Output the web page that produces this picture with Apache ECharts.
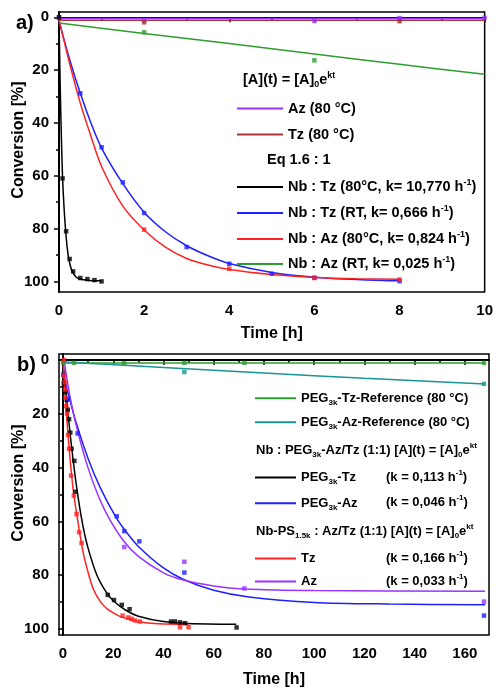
<!DOCTYPE html>
<html><head><meta charset="utf-8">
<script src="https://cdn.jsdelivr.net/npm/echarts@6/dist/echarts.min.js"></script>
<style>html,body{margin:0;padding:0;background:#fff}#c{width:496px;height:689px}</style>
</head><body><div id="c"></div>
<script>
// ---------- Panel a) data  [time h, conversion %] ----------
const aXLabels = [0, 2, 4, 6, 8, 10];
const aXMinor = [1, 3, 5, 7, 9];
const aYLabels = [0, 20, 40, 60, 80, 100];
const aYMinor = [10, 30, 50, 70, 90];

const aAzPts = [[0, 0.1], [2, 1.1], [6, 1.4], [8, 0.3], [10, 0.2]];
const aAzFit = [[0, 0.5], [10, 0.5]];
const aTzPts = [[2, 1.9], [8, 1.5]];
const aTzFit = [[0, 1.1], [10, 1.1]];
const aNbTz80Pts = [[0, 0], [0.083, 61], [0.167, 81], [0.25, 91.5], [0.333, 96.2], [0.5, 98.7], [0.667, 99.1], [0.833, 99.5], [1.0, 100]];
const aNbTz80Fit = [[0, 0], [0.02, 19], [0.04, 35], [0.06, 48], [0.083, 60.5], [0.12, 72.5], [0.167, 83], [0.21, 89.5], [0.25, 93], [0.3, 95.8], [0.4, 98.3], [0.5, 99.2], [0.7, 99.6], [1.0, 99.7]];
const aNbTzRTPts = [[0.5, 28.8], [1, 49.2], [1.5, 62.5], [2, 74.1], [3, 87], [4, 93.3], [5, 97.1], [6, 98.6], [8, 99.9]];
const aNbTzRTFit = [[0, 1.4], [0.25, 16], [0.5, 28.8], [0.75, 40], [1, 49.5], [1.5, 63], [2, 73.8], [2.5, 81.2], [3, 86.5], [3.5, 90.3], [4, 93.2], [5, 96.6], [6, 98.4], [7, 99.3], [8, 99.8]];
const aNbAz80Pts = [[2, 80.4], [4, 95.2], [6, 98.7], [8, 99.3]];
const aNbAz80Fit = [[0, 1], [0.25, 17.5], [0.5, 32.5], [0.75, 45], [1, 56.5], [1.5, 71.5], [2, 80.5], [2.5, 87], [3, 91.3], [3.5, 93.8], [4, 95.5], [5, 97.4], [6, 98.5], [7, 99], [8, 99.2]];
const aNbAzRTPts = [[2, 5.7], [6, 16.3]];
const aNbAzRTFit = [[0, 2.2], [2, 6.1], [4, 9.9], [6, 13.9], [8, 17.8], [10, 21.6]];

// ---------- Panel b) data ----------
const bXLabels = [0, 20, 40, 60, 80, 100, 120, 140, 160];
const bXMinor = [10, 30, 50, 70, 90, 110, 130, 150];
const bYLabels = [0, 20, 40, 60, 80, 100];
const bYMinor = [10, 30, 50, 70, 90];

const bTzRefPts = [[0, 1], [4.4, 1.1], [24.3, 1.2], [48.3, 1.1], [72.2, 1.1], [167.6, 1.1]];
const bTzRefFit = [[0, 1.1], [168, 1.1]];
const bAzRefPts = [[48.3, 4.5], [167.6, 8.9]];
const bAzRefFit = [[0, 0.8], [40, 2.8], [80, 4.9], [120, 6.8], [168, 8.9]];
const bPegTzPts = [[0.3, 8.6], [0.8, 12], [1.5, 14.8], [1.9, 18.5], [2.4, 22], [2.9, 27], [3.4, 33], [4.5, 37.5], [5, 49], [17.8, 87.3], [20.3, 89.2], [23.4, 91], [26.5, 92.6], [43, 97.2], [44.6, 97.2], [46.6, 97.5], [48.6, 97.8], [69.1, 99.4]];
const bPegTzFit = [[0, 0.5], [2, 20], [4, 37], [6, 51], [8, 62], [10, 70], [13.5, 80], [17, 86], [20, 89.5], [25, 93], [30, 95.2], [40, 97.2], [50, 97.9], [69, 98.2]];
const bPegAzPts = [[0.1, 5.5], [2.1, 14.5], [5.8, 27.3], [21.4, 58.1], [24.4, 63.6], [30.4, 67.4], [48.3, 79], [167.6, 95]];
const bPegAzFit = [[0, 5], [5, 22.6], [10, 36.7], [15, 47.8], [21, 58.3], [25, 63.7], [30, 69.3], [40, 77.3], [48, 81.6], [60, 85.6], [74, 88.1], [100, 90.1], [130, 90.7], [168, 91]];
const bPsTzPts = [[0.4, 0], [0.5, 5.9], [0.7, 8.4], [0.9, 11], [1.0, 14], [1.3, 17.2], [1.6, 20], [2.0, 27.9], [2.4, 33], [3.2, 43], [4.3, 50.4], [5.4, 57.3], [6.4, 64], [7.4, 68], [23.7, 95], [26, 95.7], [27.3, 96.2], [28.7, 96.8], [30.6, 97.2], [46.6, 99.3], [50, 99.3]];
const bPsTzFit = [[0, 0.5], [2, 28], [4, 47.8], [6, 60.5], [8, 71.5], [10, 79], [12, 85], [15, 90], [18, 92.8], [22, 95], [26, 96.3], [30, 97.3], [38, 98], [50, 98.2]];
const bPsAzPts = [[24.4, 69.5], [48.3, 75], [72.2, 84.9], [167.6, 89.8]];
const bPsAzFit = [[0.5, 0.5], [3, 14.8], [6, 27.1], [10, 40.2], [14, 50.4], [18, 58.3], [24, 67.1], [30, 73], [40, 79.1], [48, 81.8], [60, 84], [72, 85.1], [100, 85.7], [168, 85.9]];

// ---------- styling ----------
const F = '"Liberation Sans", Arial, Helvetica, sans-serif';
const C = {
  purple: '#9933ff', brown: '#ad3535', black: '#000000', blue: '#1f1fff',
  red: '#ff2222', green: '#2e9e2e', teal: '#1a9494'
};

function fit(name, data, color, xi, yi) {
  return { type: 'line', name, data, xAxisIndex: xi, yAxisIndex: yi, showSymbol: false,
    smooth: 0.3, color, lineStyle: { color, width: 1.5 }, itemStyle: { color }, z: 2 };
}
function pts(name, data, color, xi, yi) {
  return { type: 'scatter', name, data, xAxisIndex: xi, yAxisIndex: yi, symbol: 'rect',
    symbolSize: 4.5, itemStyle: { color }, z: 3 };
}

function xAxes(grid, min, max, labels, minors, gap) {
  return [
    { type: 'value', gridIndex: grid, min, max, position: 'bottom',
      name: 'Time [h]', nameLocation: 'middle', nameGap: gap,
      nameTextStyle: { fontFamily: F, fontWeight: 'bold', fontSize: 16, color: '#000' },
      axisLine: { show: true, lineStyle: { color: '#000', width: 2 } },
      axisTick: { show: true, customValues: labels, length: 5, lineStyle: { color: '#000', width: 1.5 } },
      axisLabel: { show: true, customValues: labels, margin: 11, fontFamily: F, fontWeight: 'bold', fontSize: 15, color: '#000' },
      splitLine: { show: false } },
    { type: 'value', gridIndex: grid, min, max, position: 'bottom', offset: 0,
      axisLine: { show: false },
      axisTick: { show: true, customValues: minors, length: 3, lineStyle: { color: '#000', width: 1.5 } },
      axisLabel: { show: false }, splitLine: { show: false } }
  ];
}
function yAxes(grid, min, max, labels, minors) {
  return [
    { type: 'value', gridIndex: grid, min, max, inverse: true, position: 'left',
      axisLine: { show: true, lineStyle: { color: '#000', width: 2 } },
      axisTick: { show: true, customValues: labels, length: 5, lineStyle: { color: '#000', width: 1.5 } },
      axisLabel: { show: true, customValues: labels, margin: 10, fontFamily: F, fontWeight: 'bold', fontSize: 15, color: '#000' },
      splitLine: { show: false } },
    { type: 'value', gridIndex: grid, min, max, inverse: true, position: 'left', offset: 0,
      axisLine: { show: false },
      axisTick: { show: true, customValues: minors, length: 3, lineStyle: { color: '#000', width: 1.5 } },
      axisLabel: { show: false }, splitLine: { show: false } }
  ];
}

// legend rich labels
const LABELS = {
  'Az (80 °C)': '{t|Az (80 °C)}',
  'Tz (80 °C)': '{t|Tz (80 °C)}',
  'Nb : Tz (80°C, k= 10,770 h-1)': '{t|Nb : Tz (80°C, k= 10,770 h}{sup|-1}{t|)}',
  'Nb : Tz (RT, k= 0,666 h-1)': '{t|Nb : Tz (RT, k= 0,666 h}{sup|-1}{t|)}',
  'Nb : Az (80°C, k= 0,824 h-1)': '{t|Nb : Az (80°C, k= 0,824 h}{sup|-1}{t|)}',
  'Nb : Az (RT, k= 0,025 h-1)': '{t|Nb : Az (RT, k= 0,025 h}{sup|-1}{t|)}',
  'PEG3k-Tz-Reference (80 °C)': '{t|PEG}{sub|3k}{t|-Tz-Reference (80 °C)}',
  'PEG3k-Az-Reference (80 °C)': '{t|PEG}{sub|3k}{t|-Az-Reference (80 °C)}',
  'PEG3k-Tz': '{t|PEG}{sub|3k}{t|-Tz}',
  'PEG3k-Az': '{t|PEG}{sub|3k}{t|-Az}',
  'Tz': '{t|Tz}',
  'Az': '{t|Az}'
};
function richSet(fs, lh) {
  return {
    t: { fontFamily: F, fontWeight: 'bold', fontSize: fs, lineHeight: lh, color: '#000' },
    sup: { fontFamily: F, fontWeight: 'bold', fontSize: Math.round(fs * 0.62), lineHeight: Math.round(fs * 0.62), verticalAlign: 'top', color: '#000' },
    sub: { fontFamily: F, fontWeight: 'bold', fontSize: Math.round(fs * 0.62), lineHeight: Math.round(fs * 0.62), verticalAlign: 'bottom', color: '#000' }
  };
}
const richA = richSet(14.5, 18);
const richB = richSet(13, 17);
function gRich(fs, lh) {
  return {
    t: { fontFamily: F, fontWeight: 'bold', fontSize: fs, lineHeight: lh, fill: '#000' },
    sup: { fontFamily: F, fontWeight: 'bold', fontSize: Math.round(fs * 0.62), lineHeight: Math.round(fs * 0.62), verticalAlign: 'top', fill: '#000' },
    sub: { fontFamily: F, fontWeight: 'bold', fontSize: Math.round(fs * 0.62), lineHeight: Math.round(fs * 0.62), verticalAlign: 'bottom', fill: '#000' }
  };
}
// one legend per entry so each row sits exactly where the reference has it
function legend(left, centerY, w, name, rich) {
  return { left, top: centerY - 6, orient: 'vertical', itemWidth: w, itemHeight: 2, icon: 'rect',
    padding: 0, selectedMode: false, data: [name], formatter: n => LABELS[n],
    textStyle: { rich, fontFamily: F, fontWeight: 'bold', color: '#000' } };
}
function gText(x, y, text, fs, lh, extra) {
  return Object.assign({ type: 'text', x, y, z: 10,
    style: { text, rich: gRich(fs, lh), fontFamily: F, fontWeight: 'bold', fontSize: fs, fill: '#000',
      align: 'left', verticalAlign: 'middle', textAlign: 'left', textVerticalAlign: 'middle' } }, extra || {});
}
function yName(y) {
  return { type: 'text', x: 19, y, rotation: Math.PI / 2, z: 10,
    style: { text: 'Conversion [%]', fontFamily: F, fontWeight: 'bold', fontSize: 16, fill: '#000',
      align: 'center', verticalAlign: 'middle', textAlign: 'center', textVerticalAlign: 'middle' } };
}

const option = {
  animation: false,
  backgroundColor: '#fff',
  grid: [
    { left: 59, top: 12, width: 430, height: 280, show: true, borderColor: '#000', borderWidth: 1.5, backgroundColor: 'transparent' },
    { left: 59, top: 354, width: 430, height: 283, show: true, borderColor: '#000', borderWidth: 1.5, backgroundColor: 'transparent' }
  ],
  xAxis: [...xAxes(0, 0, 10, aXLabels, aXMinor, 34), ...xAxes(1, -1.6, 169.6, bXLabels, bXMinor, 37)],
  yAxis: [...yAxes(0, -2, 104, aYLabels, aYMinor), ...yAxes(1, -2.2, 102.2, bYLabels, bYMinor)],
  legend: [
    legend(237, 107, 46, 'Az (80 °C)', richA),
    legend(237, 133, 46, 'Tz (80 °C)', richA),
    legend(237, 184, 46, 'Nb : Tz (80°C, k= 10,770 h-1)', richA),
    legend(237, 210, 46, 'Nb : Tz (RT, k= 0,666 h-1)', richA),
    legend(237, 236, 46, 'Nb : Az (80°C, k= 0,824 h-1)', richA),
    legend(237, 261, 46, 'Nb : Az (RT, k= 0,025 h-1)', richA),
    legend(255, 397.7, 41, 'PEG3k-Tz-Reference (80 °C)', richB),
    legend(255, 421.7, 41, 'PEG3k-Az-Reference (80 °C)', richB),
    legend(255, 477, 41, 'PEG3k-Tz', richB),
    legend(255, 502.7, 41, 'PEG3k-Az', richB),
    legend(255, 558, 41, 'Tz', richB),
    legend(255, 581, 41, 'Az', richB)
  ],
  graphic: [
    gText(16, 23, 'a)', 20, 24),
    gText(17, 365, 'b)', 20, 24),
    yName(140),
    yName(483),
    gText(243, 80, '{t|[A](t) = [A]}{sub|0}{t|e}{sup|kt}', 14.5, 18),
    gText(267, 160, '{t|Eq 1.6 : 1}', 14.5, 18),
    gText(256, 450, '{t|Nb : PEG}{sub|3k}{t|-Az/Tz (1:1) [A](t) = [A]}{sub|0}{t|e}{sup|kt}', 13, 17),
    gText(256, 531.7, '{t|Nb-PS}{sub|1.5k}{t| : Az/Tz (1:1) [A](t) = [A]}{sub|0}{t|e}{sup|kt}', 13, 17),
    gText(386, 477, '{t|(k = 0,113 h}{sup|-1}{t|)}', 13, 17),
    gText(386, 502.7, '{t|(k = 0,046 h}{sup|-1}{t|)}', 13, 17),
    gText(386, 558, '{t|(k = 0,166 h}{sup|-1}{t|)}', 13, 17),
    gText(386, 581, '{t|(k = 0,033 h}{sup|-1}{t|)}', 13, 17)
  ],
  series: [
    fit('Az (80 °C)', aAzFit, C.purple, 0, 0),
    fit('Tz (80 °C)', aTzFit, C.brown, 0, 0),
    fit('Nb : Tz (80°C, k= 10,770 h-1)', aNbTz80Fit, C.black, 0, 0),
    fit('Nb : Tz (RT, k= 0,666 h-1)', aNbTzRTFit, C.blue, 0, 0),
    fit('Nb : Az (80°C, k= 0,824 h-1)', aNbAz80Fit, C.red, 0, 0),
    fit('Nb : Az (RT, k= 0,025 h-1)', aNbAzRTFit, C.green, 0, 0),
    pts('Az (80 °C) data', aAzPts, C.purple, 0, 0),
    pts('Tz (80 °C) data', aTzPts, C.brown, 0, 0),
    pts('Nb:Tz 80 data', aNbTz80Pts, C.black, 0, 0),
    pts('Nb:Tz RT data', aNbTzRTPts, C.blue, 0, 0),
    pts('Nb:Az 80 data', aNbAz80Pts, C.red, 0, 0),
    pts('Nb:Az RT data', aNbAzRTPts, C.green, 0, 0),

    fit('PEG3k-Tz-Reference (80 °C)', bTzRefFit, C.green, 2, 2),
    fit('PEG3k-Az-Reference (80 °C)', bAzRefFit, C.teal, 2, 2),
    fit('PEG3k-Tz', bPegTzFit, C.black, 2, 2),
    fit('PEG3k-Az', bPegAzFit, C.blue, 2, 2),
    fit('Tz', bPsTzFit, C.red, 2, 2),
    fit('Az', bPsAzFit, C.purple, 2, 2),
    pts('PEG3k-Tz-Ref data', bTzRefPts, C.green, 2, 2),
    pts('PEG3k-Az-Ref data', bAzRefPts, C.teal, 2, 2),
    pts('PEG3k-Tz data', bPegTzPts, C.black, 2, 2),
    pts('PEG3k-Az data', bPegAzPts, C.blue, 2, 2),
    pts('PS Tz data', bPsTzPts, C.red, 2, 2),
    pts('PS Az data', bPsAzPts, C.purple, 2, 2)
  ]
};

const chart = echarts.init(document.getElementById('c'), null, { renderer: 'canvas' });
chart.setOption(option);
</script>
</body></html>
